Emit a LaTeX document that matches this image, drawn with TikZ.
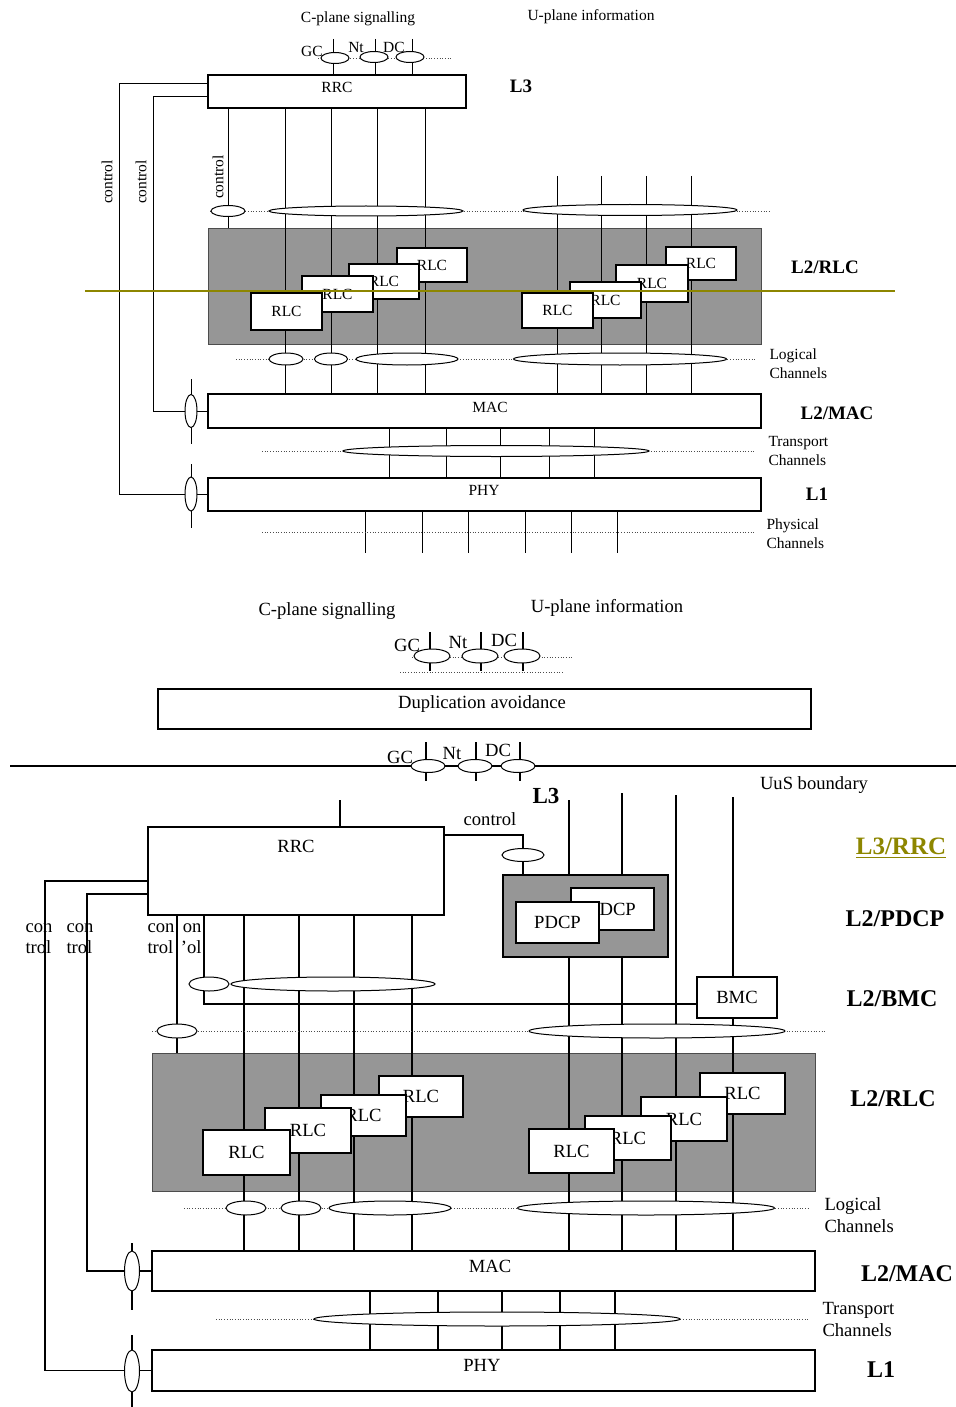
\documentclass[tikz,border=0pt]{standalone}
\usepackage{fontspec}
\setmainfont{Liberation Serif}
\usetikzlibrary{positioning, shapes.geometric, calc, fit}
\tikzset{
	layerbox/.style={rectangle, draw, line width=0.6pt, fill=white, inner sep=0pt},
	grayarea/.style={rectangle, draw=black!70, line width=0.5pt, fill=black!41, inner sep=0pt},
	chan/.style={ellipse, draw, line width=0.5pt, fill=white, inner sep=0pt},
	dotline/.style={densely dotted, line width=0.35pt, draw=black!70},
	smalltxt/.style={font=\fontsize{7.75}{9.5}\selectfont, inner sep=0pt},
	bigtxt/.style={font=\fontsize{9.3}{11}\selectfont, inner sep=0pt},
	toptag/.style={font=\bfseries\fontsize{9.5}{11}\selectfont, inner sep=0pt},
	lowtag/.style={font=\bfseries\fontsize{12}{14}\selectfont, inner sep=0pt}
}
\begin{document}
\begin{tikzpicture}[x=0.5pt, y=-0.5pt, line width=0.5pt,
		rlcbox/.style={layerbox, label={[smalltxt]center:#1}},
		rlcboxB/.style={layerbox, line width=0.65pt, label={[bigtxt]center:#1}}]
\useasboundingbox (0,0) rectangle (956,1407);

% ===== upper stack =====
\node[smalltxt] (cSigA) at (358,19) {C-plane signalling};
\node[smalltxt] (uInfoA) at (591,17) {U-plane information};
\node[layerbox, fit={(208,75) (466,108)}] (rrcA) {};
\node[grayarea, fit={(208,229) (761,344)}] (rlcAreaA) {};
\node[layerbox, fit={(208,394) (761,428)}] (macA) {};
\node[layerbox, fit={(208,478) (761,511)}] (phyA) {};

% channels
\foreach \x in {333,375,412}
	\draw (\x,39) -- (rrcA.north -| \x,0);
\draw[dotline] (318,58) -- (453,58);
\foreach \x in {285,331,377,425}
	\draw (rrcA.south -| \x,0) -- (macA.north -| \x,0);
\draw (rrcA.south -| 228,0) -- (rlcAreaA.north -| 228,0);
\foreach \x in {557,601,646,691}
	\draw (\x,176) -- (macA.north -| \x,0);
\foreach \x in {389,446,500,549,594}
	\draw (macA.south -| \x,0) -- (phyA.north -| \x,0);
\foreach \x in {365,422,468,525,571,617}
	\draw (phyA.south -| \x,0) -- (\x,553);
\draw[dotline] (210,211) -- (770,211);
\draw[dotline] (236,359) -- (755,359);
\draw[dotline] (262,451) -- (755,451);
\draw[dotline] (262,532) -- (755,532);

% control
\draw (rrcA.west |- 0,84) -- (119,84) |- (phyA.west);
\draw (rrcA.west |- 0,97) -- (153,97) |- (macA.west);
\draw (191,379) -- (191,444);
\draw (191,464) -- (191,528);

\foreach \n/\xa/\ya/\xb/\yb in {4/397/248/467/282, 3/349/264/419/299, 2/302/276/373/312, 1/251/293/322/330}
	\node[rlcbox=RLC, fit={(\xa,\ya) (\xb,\yb)}] (rlcLA\n) {};
\foreach \n/\xa/\ya/\xb/\yb in {4/666/247/736/280, 3/616/265/688/302, 2/570/282/641/318, 1/522/293/593/328}
	\node[rlcbox=RLC, fit={(\xa,\ya) (\xb,\yb)}] (rlcRA\n) {};

\foreach \n/\x/\y/\w/\h in {gcA/335/58/14/5.5, ntA/374/57/14/5.5, dcA/410/57/14/5.5,
		ctlA/228/211/17/5.5, sigA/366/211/97/5, usrA/630/210/107/5.5,
		logA1/286/359/17/6, logA2/331/359/16.5/6, logA3/407/359/51/6, logA4/620/359/106.5/6,
		trA/496/451/153/5.5, ctlMacA/191/411/6/16.5, ctlPhyA/191/494/6/17}
	\node[chan, minimum width=\w pt, minimum height=\h pt] (\n) at (\x,\y) {};

\draw[olive, line width=1pt] (85,291) -- (895,291);

\node[smalltxt] (rrcAtxt) at (337,87) {RRC};
\node[smalltxt] (macAtxt) at (490,407) {MAC};
\node[smalltxt] (phyAtxt) at (484,490) {PHY};
\node[smalltxt] (gcAtxt) at (312,51) {GC};
\node[smalltxt] (ntAtxt) at (356,48) {Nt};
\node[smalltxt] (dcAtxt) at (394,47) {DC};
\node[smalltxt, rotate=90] (ctlA1) at (107,182) {control};
\node[smalltxt, rotate=90] (ctlA2) at (141,182) {control};
\node[smalltxt, rotate=90] (ctlA3) at (218,177) {control};
\node[smalltxt, align=left, anchor=west] (logAtxt) at (769,364) {Logical\\Channels};
\node[smalltxt, align=left, anchor=west] (trAtxt) at (768,451) {Transport\\Channels};
\node[smalltxt, align=left, anchor=west] (phAtxt) at (766,534) {Physical\\Channels};
\node[toptag] (l3A) at (521,86) {L3};
\node[toptag] (l2rlcA) at (825,267) {L2/RLC};
\node[toptag] (l2macA) at (837,413) {L2/MAC};
\node[toptag] (l1A) at (817,494) {L1};

% ===== lower stack =====
\begin{scope}[line width=0.6pt]
\node[bigtxt] (cSigB) at (327,611) {C-plane signalling};
\node[bigtxt] (uInfoB) at (607,608) {U-plane information};
\node[layerbox, line width=0.65pt, fit={(158,689) (811,729)}] (dupAvoid) {};
\node[layerbox, line width=0.65pt, fit={(148,827) (444,915)}] (rrcB) {};
\node[grayarea, draw=black, line width=0.8pt, fit={(503,875) (668,957)}] (pdcpArea) {};
\node[rlcboxB=BMC, fit={(697,977) (777,1018)}] (bmc) {};
\node[grayarea, fit={(152,1053) (815,1191)}] (rlcAreaB) {};
\node[layerbox, line width=0.65pt, fit={(152,1251) (815,1291)}] (macB) {};
\node[layerbox, line width=0.65pt, fit={(152,1350) (815,1391)}] (phyB) {};

\foreach \x in {430,481,523}
	\draw (\x,632) -- (\x,671);
\draw[dotline] (412,657) -- (574,657);
\draw[dotline] (400,672) -- (563,672);
\draw (10,766) -- (956,766);
\foreach \x in {426,476,520}
	\draw (\x,742) -- (\x,781);

\draw (rrcB.north -| 340,0) -- (340,800);
\draw (rrcB.east |- 0,835) -| (pdcpArea.north -| 523,0);
\foreach \x in {244,299,354,412}
	\draw (rrcB.south -| \x,0) -- (macB.north -| \x,0);
\draw (rrcB.south -| 177,0) -- (rlcAreaB.north -| 177,0);
\draw (rrcB.south -| 204,0) |- (bmc.west |- 0,1004);
\foreach \x/\y in {569/800, 622/793} {
	\draw (\x,\y) -- (pdcpArea.north -| \x,0);
	\draw (pdcpArea.south -| \x,0) -- (macB.north -| \x,0);
}
\draw (676,795) -- (macB.north -| 676,0);
\draw (733,797) -- (bmc.north -| 733,0);
\draw (bmc.south -| 733,0) -- (macB.north -| 733,0);
\foreach \x in {370,438,502,560,615}
	\draw (macB.south -| \x,0) -- (phyB.north -| \x,0);
\draw[dotline] (152,1031) -- (826,1031);
\draw[dotline] (184,1208) -- (810,1208);
\draw[dotline] (216,1319) -- (808,1319);

% control
\draw (rrcB.west |- 0,881) -- (45,881) |- (phyB.west);
\draw (rrcB.west |- 0,894) -- (87,894) |- (macB.west);
\draw (132,1243) -- (132,1310);
\draw (132,1335) -- (132,1407);

\node[rlcboxB=PDCP, fit={(571,888) (654,930)}] (pdcp2) {};
\node[rlcboxB=PDCP, fit={(516,902) (599,943)}] (pdcp1) {};
\foreach \n/\xa/\ya/\xb/\yb in {4/379/1076/463/1117, 3/321/1095/406/1136, 2/265/1108/351/1153, 1/203/1130/290/1175}
	\node[rlcboxB=RLC, fit={(\xa,\ya) (\xb,\yb)}] (rlcLB\n) {};
\foreach \n/\xa/\ya/\xb/\yb in {4/700/1073/785/1114, 3/641/1097/727/1141, 2/585/1116/671/1160, 1/529/1129/614/1173}
	\node[rlcboxB=RLC, fit={(\xa,\ya) (\xb,\yb)}] (rlcRB\n) {};

\foreach \n/\x/\y/\w/\h in {gcM/432/656/18/7, ntM/480/656/18/7, dcM/522/656/18/7,
		gcB/428/766/17/6.5, ntB/475/766/17/6.5, dcB/518/766/17/6.5,
		ctlPdcp/523/855/21/6.5, ctlBmc/209/984/20/7, sigB/333/984/102/7,
		ctlRlcB/177/1031/20/7, usrB/657/1031/128/7,
		logB1/246/1208/20/7, logB2/301/1208/20/7, logB3/390/1208/61/7, logB4/646/1208/128.5/7,
		trB/497/1319/183/7, ctlMacB/132/1271/7.5/20, ctlPhyB/132/1371/7.5/21}
	\node[chan, minimum width=\w pt, minimum height=\h pt] (\n) at (\x,\y) {};
\end{scope}

\node[bigtxt] (dupTxt) at (482,704) {Duplication avoidance};
\node[bigtxt] (rrcBtxt) at (296,846) {RRC};
\node[bigtxt] (macBtxt) at (490,1266) {MAC};
\node[bigtxt] (phyBtxt) at (482,1365) {PHY};
\node[bigtxt] (gcMtxt) at (407,645) {GC};
\node[bigtxt] (ntMtxt) at (458,642) {Nt};
\node[bigtxt] (dcMtxt) at (504,640) {DC};
\node[bigtxt] (gcBtxt) at (400,757) {GC};
\node[bigtxt] (ntBtxt) at (452,753) {Nt};
\node[bigtxt] (dcBtxt) at (498,750) {DC};
\node[bigtxt] (ctlBtxt) at (490,819) {control};
\node[bigtxt] (uusTxt) at (814,785) {UuS boundary};
\node[bigtxt, align=left, font=\fontsize{9.3}{10.5}\selectfont] (ctlB1) at (39,938.5) {con\\trol};
\node[bigtxt, align=left, font=\fontsize{9.3}{10.5}\selectfont] (ctlB2) at (80,938.5) {con\\trol};
\node[bigtxt, align=left, font=\fontsize{9.3}{10.5}\selectfont] (ctlB3) at (161,938.5) {con\\trol};
\node[bigtxt, align=right, anchor=east, font=\fontsize{9.3}{10.5}\selectfont] (ctlB4) at (202,938.5) {on\\'ol};
\node[bigtxt, align=left, anchor=west] (logBtxt) at (824,1215) {Logical\\Channels};
\node[bigtxt, align=left, anchor=west] (trBtxt) at (822,1319) {Transport\\Channels};
\node[lowtag, font=\bfseries\fontsize{11.5}{13}\selectfont] (l3B) at (546,796) {L3};
\node[lowtag, text=olive, font=\bfseries\fontsize{12.5}{14}\selectfont] (l3rrcB) at (901,848) {\underline{L3/RRC}};
\node[lowtag] (l2pdcpB) at (895,919) {L2/PDCP};
\node[lowtag] (l2bmcB) at (892,999) {L2/BMC};
\node[lowtag] (l2rlcB) at (893,1099) {L2/RLC};
\node[lowtag] (l2macB) at (907,1274) {L2/MAC};
\node[lowtag] (l1B) at (881,1370) {L1};
\end{tikzpicture}
\end{document}
